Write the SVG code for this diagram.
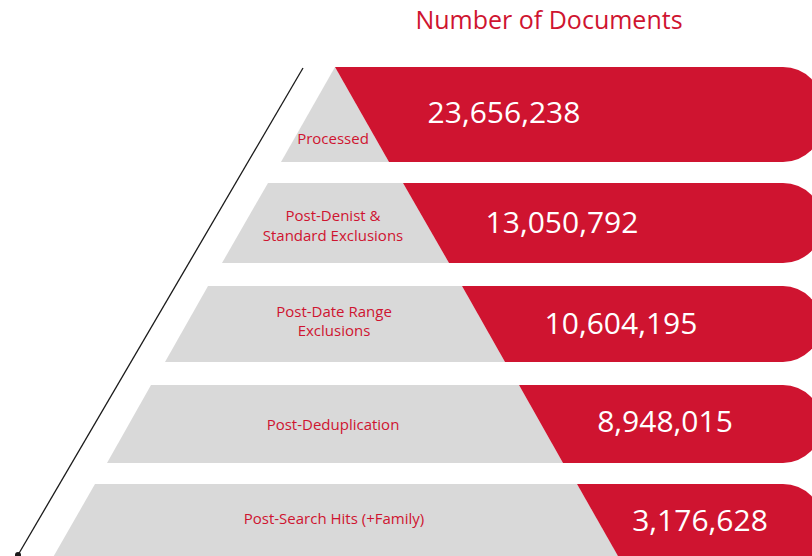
<svg xmlns="http://www.w3.org/2000/svg" width="812" height="556" viewBox="0 0 812 556">
<style>
.g{fill:#d9d9d9}
.r{fill:#cf1430}
.lbl{font-family:"Open Sans","Liberation Sans",sans-serif;font-size:15px;fill:#cf1430;text-anchor:middle}
.num{font-family:"Open Sans","Liberation Sans",sans-serif;font-size:30px;fill:#ffffff;text-anchor:middle}
.title{font-family:"Open Sans","Liberation Sans",sans-serif;font-size:25px;fill:#cf1430;text-anchor:middle}
</style>
<rect width="812" height="556" fill="#ffffff"/>
<text class="title" x="549" y="29">Number of Documents</text>
<g id="connectors">
<line x1="303" y1="68" x2="18" y2="555" stroke="#1a1a1a" stroke-width="1.3"/>
<circle cx="18" cy="555" r="3" fill="#1a1a1a"/>
</g>
<g id="row1">
<polygon class="g" points="335,67 389,162 281,162"/>
<path class="r" d="M335,67 H783 A40,40 0 0 1 823,107 V122 A40,40 0 0 1 783,162 H389 Z"/>
<text class="lbl" x="333" y="144">Processed</text>
<text class="num" x="504" y="123">23,656,238</text>
</g>
<g id="row2">
<polygon class="g" points="268,183 403,183 449,263 222,263"/>
<path class="r" d="M403,183 H783 A40,40 0 0 1 823,223 V223 A40,40 0 0 1 783,263 H449 Z"/>
<text class="lbl" x="333" y="221">Post-Denist &amp;</text>
<text class="lbl" x="333" y="241">Standard Exclusions</text>
<text class="num" x="562" y="233">13,050,792</text>
</g>
<g id="row3">
<polygon class="g" points="208,286 462,286 505,362 165,362"/>
<path class="r" d="M462,286 H783 A38,38 0 0 1 821,324 V324 A38,38 0 0 1 783,362 H505 Z"/>
<text class="lbl" x="334" y="317">Post-Date Range</text>
<text class="lbl" x="334" y="336">Exclusions</text>
<text class="num" x="621" y="334">10,604,195</text>
</g>
<g id="row4">
<polygon class="g" points="151,385 519,385 563,463 107,463"/>
<path class="r" d="M519,385 H783 A39,39 0 0 1 822,424 V424 A39,39 0 0 1 783,463 H563 Z"/>
<text class="lbl" x="333" y="430">Post-Deduplication</text>
<text class="num" x="665" y="432">8,948,015</text>
</g>
<g id="row5">
<polygon class="g" points="95,484 577,484 632,580 40,580"/>
<path class="r" d="M577,484 H783 A40,40 0 0 1 823,524 V560 A40,40 0 0 1 783,600 H643 Z"/>
<text class="lbl" x="334" y="524">Post-Search Hits (+Family)</text>
<text class="num" x="700" y="531">3,176,628</text>
</g>
</svg>
